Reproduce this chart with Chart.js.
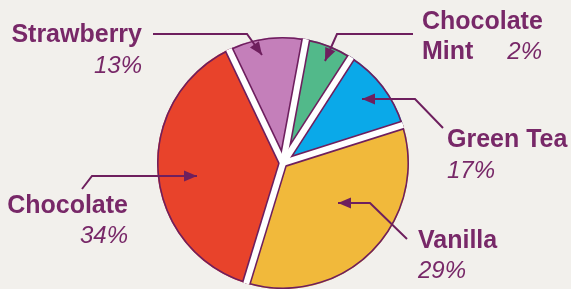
<!DOCTYPE html>
<html>
<head>
<meta charset="utf-8">
<script src="https://cdn.jsdelivr.net/npm/chart.js@4.4.0/dist/chart.umd.min.js"></script>
<style>
  html, body { margin: 0; padding: 0; background: #f2f0ec; }
  canvas { display: block; }
</style>
</head>
<body>
<canvas id="pie" width="571" height="289"></canvas>
<script>
// flavours, clockwise from the top-left boundary
const flavours = ['Strawberry', 'Chocolate Mint', 'Green Tea', 'Vanilla', 'Chocolate'];
// slice shares as drawn in the picture (degrees / 3.6)
const shares = [10, 6.2, 11, 34.6, 38.2];
// percentages printed next to each label
const pctLabels = ['13%', '2%', '17%', '29%', '34%'];
const colores = ['#c47fba', '#52b98a', '#0aa9e9', '#f1b93b', '#e8432b'];

const purple = '#6e1f5e';
const textColor = '#782868';
const gap = 3;       // half of the white gap between slices
const outline = 1.6; // purple outline width

// leader lines + labels (annotation layout)
const anotaciones = [
  { line: [[153, 34], [247, 34], [262, 55]], name: ['Strawberry'], nameX: 142, nameY: 35, align: 'right', pctX: 142, pctY: 66 },
  { line: [[413, 34], [337, 34], [325, 61]], name: ['Chocolate', 'Mint'], nameX: 422, nameY: 22, align: 'left', pctX: 542, pctY: 52, pctAlign: 'right' },
  { line: [[443, 128], [415, 99], [362, 99]], name: ['Green Tea'], nameX: 447, nameY: 140, align: 'left', pctX: 447, pctY: 171 },
  { line: [[407, 239], [370, 203], [338, 203]], name: ['Vanilla'], nameX: 418, nameY: 241, align: 'left', pctX: 418, pctY: 271 },
  { line: [[82, 189], [92, 176], [197, 176]], name: ['Chocolate'], nameX: 128, nameY: 206, align: 'right', pctX: 128, pctY: 236 }
];

// white gaps and purple outline on every slice, from the arc elements
const contornos = {
  id: 'contornos',
  afterDatasetsDraw(chart) {
    const ctx = chart.ctx;
    const arcs = chart.getDatasetMeta(0).data;
    arcs.forEach(arc => {
      const { x, y, startAngle, endAngle, outerRadius } = arc;
      ctx.save();
      ctx.beginPath();
      ctx.moveTo(x, y);
      ctx.arc(x, y, outerRadius, startAngle, endAngle);
      ctx.closePath();
      ctx.clip();
      ctx.strokeStyle = purple;
      ctx.lineWidth = 2 * (gap + outline);
      ctx.beginPath();
      ctx.moveTo(x + outerRadius * 1.1 * Math.cos(startAngle), y + outerRadius * 1.1 * Math.sin(startAngle));
      ctx.lineTo(x, y);
      ctx.lineTo(x + outerRadius * 1.1 * Math.cos(endAngle), y + outerRadius * 1.1 * Math.sin(endAngle));
      ctx.stroke();
      ctx.lineWidth = 2 * outline;
      ctx.beginPath();
      ctx.arc(x, y, outerRadius, startAngle, endAngle);
      ctx.stroke();
      ctx.restore();
    });
    // white gaps along each boundary (unclipped, hides seams)
    ctx.save();
    ctx.strokeStyle = '#ffffff';
    ctx.lineWidth = 2 * gap;
    ctx.lineCap = 'butt';
    arcs.forEach(arc => {
      const { x, y, startAngle, outerRadius } = arc;
      ctx.beginPath();
      ctx.moveTo(x, y);
      ctx.lineTo(x + outerRadius * Math.cos(startAngle), y + outerRadius * Math.sin(startAngle));
      ctx.stroke();
    });
    ctx.restore();
  }
};

const etiquetas = {
  id: 'etiquetas',
  afterDatasetsDraw(chart) {
    const ctx = chart.ctx;
    ctx.save();
    anotaciones.forEach((a, i) => {
      // leader line
      ctx.strokeStyle = purple;
      ctx.lineWidth = 2;
      ctx.beginPath();
      a.line.forEach((p, k) => k === 0 ? ctx.moveTo(p[0], p[1]) : ctx.lineTo(p[0], p[1]));
      ctx.stroke();
      // arrow head
      const [p0, p1] = a.line.slice(-2);
      const ang = Math.atan2(p1[1] - p0[1], p1[0] - p0[0]);
      const len = 13, w = 5.5;
      ctx.fillStyle = purple;
      ctx.beginPath();
      ctx.moveTo(p1[0], p1[1]);
      ctx.lineTo(p1[0] - len * Math.cos(ang) + w * Math.sin(ang), p1[1] - len * Math.sin(ang) - w * Math.cos(ang));
      ctx.lineTo(p1[0] - len * Math.cos(ang) - w * Math.sin(ang), p1[1] - len * Math.sin(ang) + w * Math.cos(ang));
      ctx.closePath();
      ctx.fill();

      // name
      ctx.fillStyle = textColor;
      ctx.textBaseline = 'middle';
      ctx.font = 'bold 25px "Liberation Sans", Arial, sans-serif';
      ctx.textAlign = a.align;
      a.name.forEach((t, k) => ctx.fillText(t, a.nameX, a.nameY + k * 30));
      // percentage
      ctx.font = 'italic 24px "Liberation Sans", Arial, sans-serif';
      ctx.textAlign = a.pctAlign || a.align;
      ctx.fillText(pctLabels[i], a.pctX, a.pctY);
    });
    ctx.restore();
  }
};

new Chart(document.getElementById('pie'), {
  type: 'pie',
  data: {
    labels: flavours,
    datasets: [{
      data: shares,
      backgroundColor: colores,
      borderWidth: 0
    }]
  },
  options: {
    responsive: false,
    animation: false,
    rotation: -25.5,
    layout: { padding: { left: 157, right: 162, top: 37, bottom: 0 } },
    plugins: {
      legend: { display: false },
      tooltip: { enabled: false }
    }
  },
  plugins: [contornos, etiquetas]
});
</script>
</body>
</html>
